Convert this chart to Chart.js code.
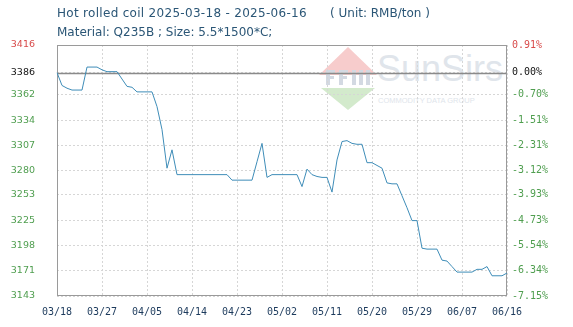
<!DOCTYPE html>
<html><head><meta charset="utf-8">
<script src="https://cdn.jsdelivr.net/npm/chart.js@4"></script>
<style>
html,body{margin:0;padding:0;background:#fff;}
#wrap{position:relative;width:573px;height:327px;overflow:hidden;}
canvas{position:absolute;left:0;top:0;}
.t{position:absolute;font-family:"DejaVu Sans";font-size:12px;color:#2b5676;white-space:pre;line-height:14px;}
.wm{position:absolute;color:#e0e5eb;font-family:"Liberation Sans";white-space:nowrap;line-height:1;transform-origin:0 0;}
</style></head><body>
<div id="wrap">
<div class="wm" style="left:377px;top:51px;font-size:36px;">SunSirs</div>
<div class="wm" style="left:378px;top:97px;font-size:7.5px;">COMMODITY DATA GROUP</div>
<canvas id="c" width="573" height="327"></canvas>
<div class="t" style="left:57px;top:6px;letter-spacing:0.3px;">Hot rolled coil 2025-03-18 - 2025-06-16</div>
<div class="t" style="left:330px;top:6px;">( Unit: RMB/ton )</div>
<div class="t" style="left:57px;top:25px;">Material: Q235B ; Size: 5.5*1500*C;</div>
</div>
<script>
// ---- data ----
const startDate = '2025-03-18';
const dayCount = 91;
const prices = [
 3386,3372,3369,3367,3367,3367,3392,3392,3392,3389,
 3387,3387,3387,3379,3371,3370,3365,3365,3365,3365,
 3349,3324,3282,3302,3275,3275,3275,3275,3275,3275,
 3275,3275,3275,3275,3275,3269,3269,3269,3269,3269,
 3289,3309,3272,3275,3275,3275,3275,3275,3275,3262,
 3281,3275,3273,3272,3272,3256,3291,3311,3312,3309,
 3308,3308,3288,3288,3285,3282,3266,3265,3265,3252,
 3239,3225,3225,3195,3194,3194,3194,3182,3181,3175,
 3169,3169,3169,3169,3172,3172,3175,3165,3165,3165,
 3168
];
const basePrice = 3386;
const xTickLabels = ['03/18','03/27','04/05','04/14','04/23','05/02','05/11','05/20','05/29','06/07','06/16'];
const xTickEvery = 9;
const yTickValues = [3143,3171,3198,3225,3253,3280,3307,3334,3362,3386,3416];
const yTickLabels = ['3143','3171','3198','3225','3253','3280','3307','3334','3362','3386','3416'];
const pctTickLabels = ['-7.15%','-6.34%','-5.54%','-4.73%','-3.93%','-3.12%','-2.31%','-1.51%','-0.70%','0.00%','0.91%'];
const yMin = 3143, yMax = 3416;

// categories (dates)
const categories = [];
{
  const d0 = new Date(startDate + 'T00:00:00Z');
  for (let i = 0; i < dayCount; i++) {
    const d = new Date(d0.getTime() + i * 86400000);
    categories.push(String(d.getUTCMonth()+1).padStart(2,'0') + '/' + String(d.getUTCDate()).padStart(2,'0'));
  }
}

const RED = '#d84a4a', GREEN = '#4f9e4f', BLACK = '#111';
function tickColor(i){ return i === yTickValues.length-1 ? RED : (yTickValues[i] === basePrice ? BLACK : GREEN); }

const framePlugin = {
  id: 'frame',
  beforeDraw(chart){
    const ctx = chart.ctx;
    ctx.save();
    // logo diamond (watermark)
    ctx.fillStyle = '#f7cccc';
    ctx.beginPath(); ctx.moveTo(348,47); ctx.lineTo(377,75); ctx.lineTo(319,75); ctx.closePath(); ctx.fill();
    ctx.fillStyle = '#d3eacc';
    ctx.beginPath(); ctx.moveTo(321,88); ctx.lineTo(375,88); ctx.lineTo(348,110); ctx.closePath(); ctx.fill();
    ctx.fillStyle = '#d3d9e2';
    ctx.fillRect(326,70,4,15); ctx.fillRect(326,70,9,3); ctx.fillRect(326,76,8,3);
    ctx.fillRect(339,70,4,15); ctx.fillRect(339,70,9,3); ctx.fillRect(339,76,8,3);
    ctx.fillRect(352,70,4,15); ctx.fillRect(359,70,4,15); ctx.fillRect(366,70,4,15);
    ctx.restore();
  },
  beforeDatasetsDraw(chart){
    const {ctx, chartArea:a, scales} = chart;
    ctx.save();
    const yb = Math.round(scales.y.getPixelForValue(basePrice)) + 0.5;
    ctx.strokeStyle = '#8a8a8a'; ctx.lineWidth = 1.5;
    ctx.beginPath(); ctx.moveTo(a.left, yb); ctx.lineTo(a.right, yb); ctx.stroke();
    ctx.lineWidth = 1; ctx.strokeStyle = '#9a9a9a';
    ctx.strokeRect(Math.round(a.left)+0.5, Math.round(a.top)+0.5, Math.round(a.width)-1, Math.round(a.height)-1);
    ctx.restore();
  }
};

new Chart(document.getElementById('c'), {
  type: 'line',
  data: {
    labels: categories,
    datasets: [{
      data: prices,
      yAxisID: 'y',
      borderColor: '#3f8db8',
      borderWidth: 1,
      pointRadius: 0,
      tension: 0,
      fill: false
    }]
  },
  options: {
    responsive: false,
    animation: false,
    devicePixelRatio: 1,
    layout: { padding: { top: 45, left: 0, right: 0, bottom: 0 } },
    plugins: { legend: { display: false }, tooltip: { enabled: false } },
    scales: {
      x: {
        type: 'category',
        afterFit(s){ s.height = 31; },
        grid: {
          color: (c) => (c.index % xTickEvery === 0) ? '#d6d6d6' : 'rgba(0,0,0,0)',
          drawTicks: false
        },
        border: { display: false, dash: [2,2] },
        ticks: {
          autoSkip: false, maxRotation: 0, minRotation: 0, padding: 10,
          color: '#1c3a5c',
          font: { family: 'DejaVu Sans Mono', size: 10 },
          callback: (v, i) => (i % xTickEvery === 0) ? xTickLabels[i / xTickEvery] : ''
        }
      },
      y: {
        type: 'linear', position: 'left', min: yMin, max: yMax,
        afterBuildTicks(s){ s.ticks = yTickValues.map(v => ({ value: v })); },
        afterFit(s){ s.width = 57; },
        grid: { color: '#d6d6d6', drawTicks: false },
        border: { display: false, dash: [2,2] },
        ticks: {
          padding: 22,
          font: { family: 'DejaVu Sans', size: 9.5 },
          color: (c) => tickColor(c.index),
          callback: (v, i) => yTickLabels[i]
        }
      },
      y2: {
        type: 'linear', position: 'right', min: yMin, max: yMax,
        afterBuildTicks(s){ s.ticks = yTickValues.map(v => ({ value: v })); },
        afterFit(s){ s.width = 66; },
        grid: { drawOnChartArea: false, drawTicks: false },
        border: { display: false },
        ticks: {
          padding: 5,
          font: { family: 'DejaVu Sans Mono', size: 10 },
          color: (c) => tickColor(c.index),
          callback: (v, i) => pctTickLabels[i]
        }
      }
    }
  },
  plugins: [framePlugin]
});
</script>
</body></html>
